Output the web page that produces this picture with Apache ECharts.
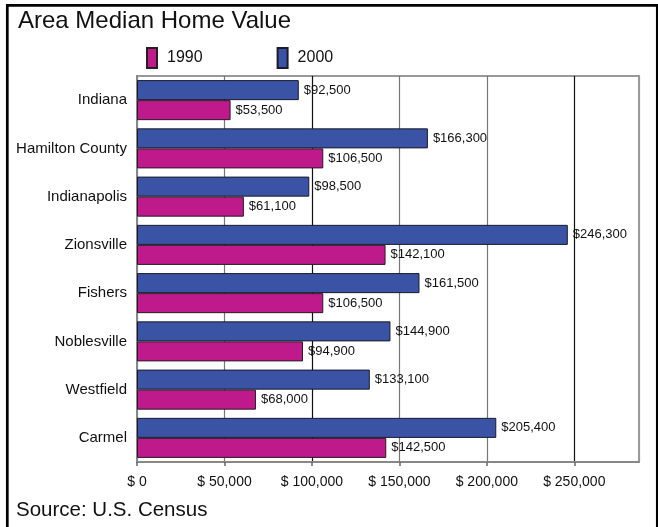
<!DOCTYPE html>
<html>
<head>
<meta charset="utf-8">
<script src="https://cdn.jsdelivr.net/npm/echarts@6/dist/echarts.min.js"></script>
<style>html,body{margin:0;padding:0;background:#fff}#c{width:658px;height:527px}</style>
</head>
<body>
<div id="c"></div>
<script>
var categories = ['Indiana', 'Hamilton County', 'Indianapolis', 'Zionsville', 'Fishers', 'Noblesville', 'Westfield', 'Carmel'];
var values1990 = [53500, 106500, 61100, 142100, 106500, 94900, 68000, 142500];
var values2000 = [92500, 166300, 98500, 246300, 161500, 144900, 133100, 205400];
var xTicks = [0, 50000, 100000, 150000, 200000, 250000];
var seriesNames = ['1990', '2000'];

var SANS = "'Liberation Sans', Arial, sans-serif";
function money(v) { return '$' + v.toLocaleString('en-US'); }

var chart = echarts.init(document.getElementById('c'), null, {renderer: 'canvas'});
chart.setOption({
  animation: false,
  backgroundColor: '#fff',
  legend: {
    data: seriesNames,
    left: 146, top: 47, padding: 0,
    itemWidth: 10, itemHeight: 20, itemGap: 74,
    icon: 'rect',
    textStyle: {fontFamily: SANS, fontSize: 16, color: '#111', padding: [0, 0, 0, 5]}
  },
  grid: {left: 137, right: 19, top: 76, bottom: 65, show: true, borderColor: '#999', borderWidth: 2, containLabel: false},
  xAxis: {
    type: 'value', min: 0, max: 287000, interval: 50000,
    axisLine: {show: true, lineStyle: {color: '#888', width: 2}},
    axisTick: {show: true, length: 4, lineStyle: {color: '#666', width: 1.5}},
    axisLabel: {
      showMaxLabel: false, margin: 13,
      fontFamily: SANS, fontSize: 14, color: '#111',
      formatter: function (v) { return xTicks.indexOf(v) >= 0 ? '$ ' + v.toLocaleString('en-US') : ''; }
    },
    splitLine: {show: true, lineStyle: {color: ['#777', '#777', '#111', '#777', '#777', '#111', '#999'], width: 1.2}}
  },
  yAxis: {
    type: 'category', data: categories, inverse: true,
    axisLine: {show: true, lineStyle: {color: '#888', width: 2}},
    axisTick: {show: false},
    axisLabel: {margin: 10, fontFamily: SANS, fontSize: 15, color: '#111'},
    splitLine: {show: false}
  },
  series: [
    {
      name: '2000', type: 'bar', data: values2000,
      barGap: '0%', barCategoryGap: '17%',
      itemStyle: {color: '#3a53a4', borderColor: '#1a1a2a', borderWidth: 1},
      label: {show: true, position: 'right', distance: 5, fontFamily: SANS, fontSize: 13, color: '#111', formatter: function (p) { return money(p.value); }}
    },
    {
      name: '1990', type: 'bar', data: values1990,
      barGap: '0%', barCategoryGap: '17%',
      itemStyle: {color: '#be1a8b', borderColor: '#2a1a22', borderWidth: 1},
      label: {show: true, position: 'right', distance: 5, fontFamily: SANS, fontSize: 13, color: '#111', formatter: function (p) { return money(p.value); }}
    }
  ],
  graphic: [
    {type: 'rect', shape: {x: 7.3, y: 5.3, width: 650, height: 540}, style: {fill: 'none', stroke: '#000', lineWidth: 2.7}, silent: true, z: 100},
    {type: 'text', left: 18, top: 9, style: {text: 'Area Median Home Value', fontFamily: SANS, fontSize: 24, fill: '#111'}},
    {type: 'text', left: 16, top: 500, style: {text: 'Source: U.S. Census', fontFamily: SANS, fontSize: 20.5, fill: '#111'}}
  ]
});
</script>
</body>
</html>
